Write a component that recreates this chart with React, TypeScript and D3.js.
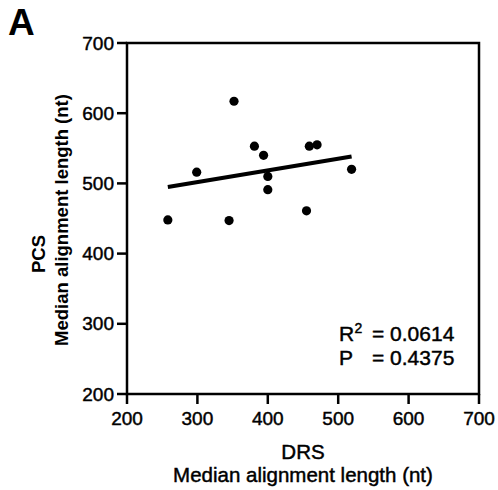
import React from "react";
import * as d3 from "d3";

const drsMedian = [258, 299, 352, 345, 381, 394, 400, 400, 455, 459, 470, 519];
const pcsMedian = [448, 516, 617, 447, 553, 540, 510, 491, 461, 553, 555, 520];
const ticks = [200, 300, 400, 500, 600, 700];
const statR2 = "0.0614";
const statP = "0.4375";

const FONT = "'Liberation Sans', Arial, Helvetica, sans-serif";

export default function App() {
  const W = 498, H = 490;
  const x = d3.scaleLinear().domain([200, 700]).range([127, 479]);
  const y = d3.scaleLinear().domain([200, 700]).range([394, 43]);

  const pts = drsMedian.map((d, i) => [d, pcsMedian[i]] as [number, number]);
  const mx = d3.mean(drsMedian)!;
  const my = d3.mean(pcsMedian)!;
  const sxy = d3.sum(pts, (p) => (p[0] - mx) * (p[1] - my));
  const sxx = d3.sum(pts, (p) => (p[0] - mx) ** 2);
  const slope = sxy / sxx;
  const icpt = my - slope * mx;
  const [x0, x1] = d3.extent(drsMedian) as [number, number];
  const line = d3.line<number>().x((d) => x(d)).y((d) => y(icpt + slope * d));

  const heavy = { stroke: "#000", strokeWidth: 0.45 } as const;

  return (
    <svg width={W} height={H} style={{ position: "absolute", left: 0, top: 0, background: "#fff" }} fontFamily={FONT}>
      <rect x={0} y={0} width={W} height={H} fill="#fff" />
      <text x={8} y={35} fontSize={37} fontWeight="bold">A</text>

      {/* frame */}
      <rect x={x(200)} y={y(700)} width={x(700) - x(200)} height={y(200) - y(700)} fill="none" stroke="#000" strokeWidth={2.5} />

      {/* y ticks */}
      {ticks.map((t) => (
        <g key={"y" + t}>
          <line x1={x(200) - 10} x2={x(200)} y1={y(t)} y2={y(t)} stroke="#000" strokeWidth={2.5} />
          <text x={x(200) - 13} y={y(t)} dy="0.35em" textAnchor="end" fontSize={19} {...heavy}>{t}</text>
        </g>
      ))}
      {/* x ticks */}
      {ticks.map((t) => (
        <g key={"x" + t}>
          <line x1={x(t)} x2={x(t)} y1={y(200)} y2={y(200) + 10} stroke="#000" strokeWidth={2.5} />
          <text x={x(t)} y={425} textAnchor="middle" fontSize={19} {...heavy}>{t}</text>
        </g>
      ))}

      {/* regression */}
      <path d={line([x0, x1])!} stroke="#000" strokeWidth={4.2} fill="none" />

      {/* points */}
      {pts.map((p, i) => (
        <circle key={i} cx={x(p[0])} cy={y(p[1])} r={4.6} fill="#000" />
      ))}

      {/* stats */}
      <text x={339} y={341} fontSize={21} {...heavy}>R</text>
      <text x={354.5} y={333} fontSize={14} {...heavy}>2</text>
      <text x={372} y={341} fontSize={21} {...heavy}>= {statR2}</text>
      <text x={339} y={365} fontSize={21} {...heavy}>P</text>
      <text x={372} y={365} fontSize={21} {...heavy}>= {statP}</text>

      {/* y title */}
      <text transform={`translate(45,254) rotate(-90)`} textAnchor="middle" fontSize={18.5} fontWeight="bold">PCS</text>
      <text transform={`translate(68,220) rotate(-90)`} textAnchor="middle" fontSize={18.5} fontWeight="bold">Median alignment length (nt)</text>

      {/* x title */}
      <text x={303} y={459} textAnchor="middle" fontSize={20.5} {...heavy}>DRS</text>
      <text x={303} y={481.7} textAnchor="middle" fontSize={20.5} {...heavy}>Median alignment length (nt)</text>
    </svg>
  );
}
